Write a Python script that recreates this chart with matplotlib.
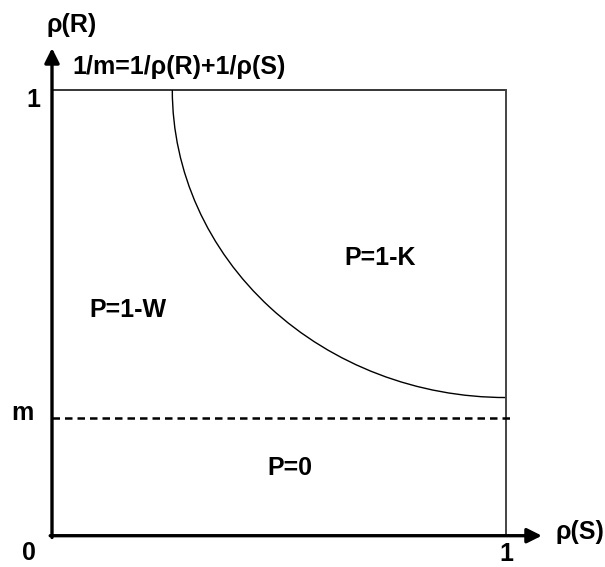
import matplotlib
matplotlib.use("Agg")
import matplotlib.pyplot as plt
from matplotlib.patches import Arc

plt.rcParams['font.family'] = ['Liberation Sans', 'DejaVu Sans']

# diagram values (in rho units)
m_level = 0.263          # dashed line level "m"
arc_start_x = 0.265      # where curve meets rho(R)=1
arc_end_y = 0.310        # where curve meets rho(S)=1
x_arrow_tip = 1.079
y_arrow_tip = 1.094
dash_end = 1.013
region_labels = ["P=1-W", "P=1-K", "P=0"]
region_pos = [(0.167, 0.506), (0.722, 0.623), (0.524, 0.152)]
tick_labels = {"x0": "0", "x1": "1", "ym": "m", "y1": "1"}

fig = plt.figure(figsize=(6.05, 5.67), dpi=100)
ax = fig.add_axes([0, 0, 1, 1])
ax.set_xlim(-52 / 454, (605 - 52) / 454)
ax.set_ylim(-(567 - 535.7) / 445.7, 535.7 / 445.7)
ax.axis('off')

fs = 18
bold = dict(fontsize=fs, fontweight='bold', color='black')

# axes arrows
ax.annotate('', xy=(x_arrow_tip, 0), xytext=(-0.004, 0),
            arrowprops=dict(arrowstyle='-|>', lw=2.4, color='black',
                            mutation_scale=22, shrinkA=0, shrinkB=0))
ax.annotate('', xy=(0, y_arrow_tip), xytext=(0, -0.004),
            arrowprops=dict(arrowstyle='-|>', lw=2.4, color='black',
                            mutation_scale=22, shrinkA=0, shrinkB=0))

# box lines
ax.plot([0, 1], [1, 1], color='black', lw=1.1)
ax.plot([1, 1], [0, 1], color='#444444', lw=1.4)

# dashed m line
ax.plot([0, dash_end], [m_level, m_level], color='black', lw=1.8,
        linestyle=(0, (3, 2)))

# curve: quarter arc centred at (1,1)
arc = Arc((1, 1), 2 * (1 - arc_start_x), 2 * (1 - arc_end_y),
          theta1=180, theta2=270, color='black', lw=1.0)
ax.add_patch(arc)

# labels
ax.text(0.044, 1.146, "ρ(R)", ha='center', va='center', **bold)
ax.text(0.044, 1.052, "1/m=1/ρ(R)+1/ρ(S)", ha='left', va='center', **bold)
ax.text(-0.042, 0.977, tick_labels["y1"], ha='center', va='center', **bold)
ax.text(-0.066, 0.275, tick_labels["ym"], ha='center', va='center', **bold)
ax.text(-0.051, -0.039, tick_labels["x0"], ha='center', va='center', **bold)
ax.text(1.0, -0.069, tick_labels["x1"], ha='center', va='bottom', **bold)
ax.text(1.108, 0.008, "ρ(S)", ha='left', va='center', **bold)

for lab, (x, y) in zip(region_labels, region_pos):
    ax.text(x, y, lab, ha='center', va='center', **bold)

fig.savefig("out.png", dpi=100)
